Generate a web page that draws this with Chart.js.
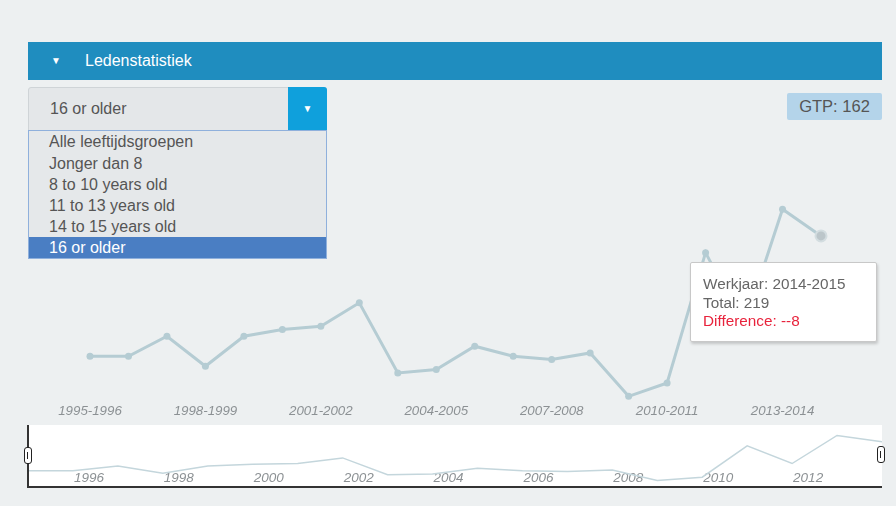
<!DOCTYPE html>
<html lang="en">
<head>
<meta charset="UTF-8">
<title>Ledenstatistiek</title>
<script src="https://cdn.jsdelivr.net/npm/chart.js"></script>
<style>
  body {
    margin: 0;
    width: 896px;
    height: 506px;
    background: #edf0f1;
    font-family: "Liberation Sans", Arial, sans-serif;
    position: relative;
    overflow: hidden;
  }
  .header {
    position: absolute; left: 28px; top: 42px; width: 854px; height: 38px;
    background: #1f8dbf; color: #fff; font-size: 16px; line-height: 38px;
  }
  .header .arrow { position: absolute; left: 23px; font-size: 10px; }
  .header .title { position: absolute; left: 57px; }
  .select {
    position: absolute; left: 28px; top: 87px; width: 297px; height: 42px;
    background: #e4e7e9; border: 1px solid #cfd4d7; border-radius: 3px 3px 0 0;
    color: #555; font-size: 16px; line-height: 42px;
  }
  .select .val { position: absolute; left: 21px; }
  .select .btn {
    position: absolute; right: -1px; top: -1px; width: 39px; height: 44px;
    background: #0fa0dc; color: #fff; font-size: 10px; text-align: center; line-height: 44px;
    border-radius: 0 3px 0 0;
  }
  .list {
    position: absolute; left: 28px; top: 130px; width: 297px; height: 127px;
    background: #e5e8ea; border: 1px solid #8fb0dc; z-index: 5;
  }
  .list div { height: 21px; line-height: 21px; padding-left: 20px; font-size: 16px; color: #555; }
  .list div:first-child { height: 22px; line-height: 22px; }
  .list div.sel { background: #4a7ec3; color: #fff; }
  .badge {
    position: absolute; left: 787px; top: 93px; width: 95px; height: 27px;
    background: #b4d4ea; color: #555; font-size: 16.5px; line-height: 27px; text-align: center;
    border-radius: 2px;
  }
  #mainWrap { position: absolute; left: 28px; top: 130px; }
  #navWrap { position: absolute; left: 28px; top: 425px; background: #fff; }
  .navEdgeL { position: absolute; left: 27px; top: 425px; width: 2px; height: 62px; background: #333; }
  .navEdgeB { position: absolute; left: 27px; top: 486px; width: 855px; height: 2px; background: #333; }
  .handle {
    position: absolute; width: 6px; height: 15px; background: #fff; border: 1px solid #222; border-radius: 3px;
  }
  .handle::after {
    content: ""; position: absolute; left: 2px; top: 4px; width: 1px; height: 7px; background: #222;
  }
  .tip {
    position: absolute; left: 690px; top: 262px; width: 187px; height: 80px;
    background: #fff; border: 1px solid #c8c8c8; border-radius: 2px;
    box-shadow: 1px 2px 3px rgba(0,0,0,0.18);
    color: #666; font-size: 15.3px; line-height: 18.6px; z-index: 6;
    box-sizing: border-box; padding: 12px 0 0 12px;
  }
  .tip .red { color: #e8233c; }
</style>
</head>
<body>
<div class="header"><span class="arrow">&#9660;</span><span class="title">Ledenstatistiek</span></div>
<div class="select"><span class="val">16 or older</span><span class="btn">&#9660;</span></div>
<div class="list" id="list"></div>
<div class="badge" id="badge"></div>

<div id="mainWrap"><canvas id="mainChart" width="854" height="290"></canvas></div>
<div id="navWrap"><canvas id="navChart" width="854" height="61"></canvas></div>
<div class="navEdgeL"></div>
<div class="navEdgeB"></div>
<div class="handle" style="left:24px; top:447px;"></div>
<div class="handle" style="left:877px; top:446px;"></div>
<div class="tip" id="tip"></div>

<script>
  // age groups in the dropdown
  const ageGroups = ['Alle leeftijdsgroepen', 'Jonger dan 8', '8 to 10 years old', '11 to 13 years old', '14 to 15 years old', '16 or older'];
  const selectedGroup = '16 or older';
  const gtp = 162;

  // werkjaren and member totals
  const seasons = ['1995-1996', '1996-1997', '1997-1998', '1998-1999', '1999-2000', '2000-2001', '2001-2002',
    '2002-2003', '2003-2004', '2004-2005', '2005-2006', '2006-2007', '2007-2008', '2008-2009', '2009-2010',
    '2010-2011', '2011-2012', '2012-2013', '2013-2014', '2014-2015'];
  const totals = [183, 183, 189, 180, 189, 191, 192, 199, 178, 179, 186, 183, 182, 184, 171, 175, 214, 192, 227, 219];

  // navigator years
  const navYears = ['1995', '1996', '1997', '1998', '1999', '2000', '2001', '2002', '2003', '2004',
    '2005', '2006', '2007', '2008', '2009', '2010', '2011', '2012', '2013', '2014'];
  const navTickLabels = ['1996', '1998', '2000', '2002', '2004', '2006', '2008', '2010', '2012'];

  const hoverIndex = 19;

  // html bits
  let listHtml = '';
  ageGroups.forEach(function (g) {
    listHtml += '<div' + (g == selectedGroup ? ' class="sel"' : '') + '>' + g + '</div>';
  });
  document.getElementById('list').innerHTML = listHtml;
  document.getElementById('badge').textContent = 'GTP: ' + gtp;
  document.getElementById('tip').innerHTML =
    'Werkjaar: ' + seasons[hoverIndex] + '<br>' +
    'Total: ' + totals[hoverIndex] + '<br>' +
    '<span class="red">Difference: -' + (totals[hoverIndex] - totals[hoverIndex - 1]) + '</span>';

  // main chart
  new Chart(document.getElementById('mainChart').getContext('2d'), {
    type: 'line',
    data: {
      labels: seasons,
      datasets: [{
        data: totals,
        borderColor: '#b5ccd3',
        borderWidth: 3,
        tension: 0,
        pointRadius: ctx => ctx.dataIndex === hoverIndex ? 5.5 : 3.5,
        pointBackgroundColor: ctx => ctx.dataIndex === hoverIndex ? '#bcc6ca' : '#b5ccd3',
        pointBorderColor: ctx => ctx.dataIndex === hoverIndex ? '#d3dde0' : '#b5ccd3',
        pointBorderWidth: ctx => ctx.dataIndex === hoverIndex ? 2 : 0
      }]
    },
    options: {
      responsive: false,
      animation: false,
      events: [],
      layout: { padding: { left: 62, right: 61, top: 9, bottom: 1 } },
      plugins: { legend: { display: false }, tooltip: { enabled: false } },
      scales: {
        x: {
          grid: { display: false, drawTicks: false, tickLength: 0 },
          border: { display: false },
          ticks: {
            autoSkip: false,
            maxRotation: 0,
            padding: 0,
            color: '#8c9194',
            font: { family: 'Liberation Sans', size: 13.3, style: 'italic' },
            callback: (v, i) => i % 3 === 0 ? seasons[i] : ''
          }
        },
        y: { display: false, min: 169, max: 248 }
      }
    }
  });

  // navigator
  new Chart(document.getElementById('navChart').getContext('2d'), {
    type: 'line',
    data: {
      labels: navYears,
      datasets: [{
        data: totals,
        borderColor: '#c4d6dc',
        borderWidth: 1.5,
        tension: 0,
        pointRadius: 0
      }]
    },
    options: {
      responsive: false,
      animation: false,
      events: [],
      layout: { padding: 0 },
      plugins: { legend: { display: false }, tooltip: { enabled: false } },
      scales: {
        x: {
          grid: { display: false, drawTicks: false, tickLength: 0 },
          border: { display: false },
          ticks: {
            autoSkip: false,
            maxRotation: 0,
            align: 'start',
            labelOffset: 1,
            padding: -18,
            color: '#8c9194',
            font: { family: 'Liberation Sans', size: 13.5, style: 'italic', lineHeight: '20px' },
            callback: (v, i) => navTickLabels.includes(navYears[i]) ? navYears[i] : ''
          }
        },
        y: { display: false, min: 164, max: 240 }
      }
    }
  });
</script>
</body>
</html>
